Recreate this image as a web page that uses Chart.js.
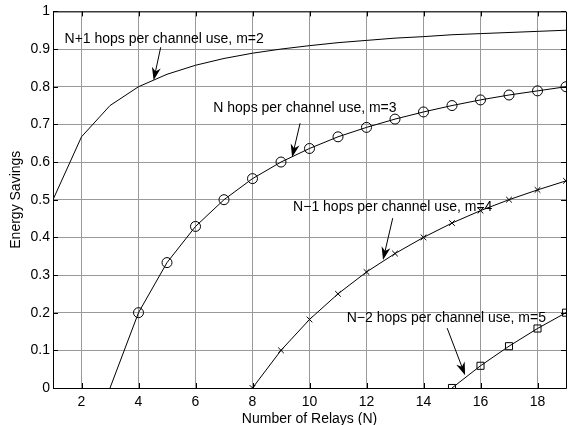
<!DOCTYPE html>
<html>
<head>
<meta charset="utf-8">
<script src="https://cdn.jsdelivr.net/npm/chart.js@4/dist/chart.umd.min.js"></script>
<style>
  html, body { margin: 0; padding: 0; background: #fff; }
  #wrap { width: 572px; height: 425px; }
</style>
</head>
<body>
<div id="wrap"><canvas id="savings"></canvas></div>
<script>
// relays N and energy savings
const relaysM2 = [1, 2, 3, 4, 5, 6, 7, 8, 9, 10, 11, 12, 13, 14, 15, 16, 17, 18, 19];
const savingsM2 = [0.5, 0.667, 0.75, 0.8, 0.833, 0.857, 0.875, 0.889, 0.9, 0.909, 0.917, 0.923, 0.929, 0.933, 0.938, 0.941, 0.944, 0.947, 0.95];

const relaysM3 = [3, 4, 5, 6, 7, 8, 9, 10, 11, 12, 13, 14, 15, 16, 17, 18, 19];
const savingsM3 = [0, 0.2, 0.333, 0.429, 0.5, 0.556, 0.6, 0.636, 0.667, 0.692, 0.714, 0.733, 0.75, 0.765, 0.778, 0.789, 0.8];

const relaysM4 = [8, 9, 10, 11, 12, 13, 14, 15, 16, 17, 18, 19];
const savingsM4 = [0, 0.1, 0.182, 0.25, 0.308, 0.357, 0.4, 0.438, 0.471, 0.5, 0.526, 0.55];

const relaysM5 = [15, 16, 17, 18, 19];
const savingsM5 = [0, 0.059, 0.111, 0.158, 0.2];

const xTicks = [2, 4, 6, 8, 10, 12, 14, 16, 18];

// labels with arrows, in data units: text centre, arrow start, arrow tip
const notes = [
  { text: "N+1 hops per channel use, m=2", tx: 4.9, ty: 0.926, x0: 4.78, y0: 0.905, x1: 4.53, y1: 0.817 },
  { text: "N hops per channel use, m=3", tx: 9.84, ty: 0.743, x0: 9.67, y0: 0.703, x1: 9.39, y1: 0.613 },
  { text: "N\u22121 hops per channel use, m=4", tx: 12.92, ty: 0.48, x0: 12.92, y0: 0.451, x1: 12.58, y1: 0.34 },
  { text: "N\u22122 hops per channel use, m=5", tx: 14.8, ty: 0.186, x0: 14.83, y0: 0.159, x1: 15.46, y1: 0.034 }
];

const FONT = "'Liberation Sans', Arial, Helvetica, sans-serif";

function pts(xs, ys) {
  return xs.map((x, i) => ({ x: x, y: ys[i] }));
}

// frame, inward ticks and the annotations
const frameAndNotes = {
  id: "frameAndNotes",
  afterDatasetsDraw(chart) {
    const ctx = chart.ctx;
    const a = chart.chartArea;
    const xs = chart.scales.x;
    const ys = chart.scales.y;
    ctx.save();
    ctx.strokeStyle = "#000";
    ctx.lineWidth = 1;
    ctx.beginPath();
    ctx.rect(a.left + 0.5, a.top + 0.5, a.right - a.left, a.bottom - a.top);
    ctx.stroke();
    ctx.beginPath();
    xTicks.forEach(v => {
      const px = Math.round(xs.getPixelForValue(v)) + 0.5;
      ctx.moveTo(px, a.bottom); ctx.lineTo(px, a.bottom - 5);
      ctx.moveTo(px, a.top); ctx.lineTo(px, a.top + 5);
    });
    for (let k = 0; k <= 10; k++) {
      const py = Math.round(ys.getPixelForValue(k / 10)) + 0.5;
      ctx.moveTo(a.left, py); ctx.lineTo(a.left + 5, py);
      ctx.moveTo(a.right, py); ctx.lineTo(a.right - 5, py);
    }
    ctx.stroke();

    ctx.fillStyle = "#000";
    ctx.font = "14px " + FONT;
    ctx.textAlign = "center";
    ctx.textBaseline = "middle";
    notes.forEach(n => {
      ctx.fillText(n.text, xs.getPixelForValue(n.tx), ys.getPixelForValue(n.ty));
      const sx = xs.getPixelForValue(n.x0), sy = ys.getPixelForValue(n.y0);
      const ex = xs.getPixelForValue(n.x1), ey = ys.getPixelForValue(n.y1);
      const ang = Math.atan2(ey - sy, ex - sx);
      const len = 13, half = 4.5;
      ctx.beginPath();
      ctx.moveTo(sx, sy);
      ctx.lineTo(ex - Math.cos(ang) * len * 0.6, ey - Math.sin(ang) * len * 0.6);
      ctx.stroke();
      const bx = ex - Math.cos(ang) * len, by = ey - Math.sin(ang) * len;
      ctx.beginPath();
      ctx.moveTo(ex, ey);
      ctx.lineTo(bx - Math.sin(ang) * half, by + Math.cos(ang) * half);
      ctx.lineTo(ex - Math.cos(ang) * len * 0.7, ey - Math.sin(ang) * len * 0.7);
      ctx.lineTo(bx + Math.sin(ang) * half, by - Math.cos(ang) * half);
      ctx.closePath();
      ctx.fill();
    });
    ctx.restore();
  }
};

const lineStyle = {
  borderColor: "#000",
  backgroundColor: "rgba(0,0,0,0)",
  borderWidth: 1,
  pointBorderColor: "#000",
  pointBackgroundColor: "rgba(0,0,0,0)",
  pointBorderWidth: 1,
  tension: 0
};

new Chart(document.getElementById("savings"), {
  type: "line",
  data: {
    datasets: [
      Object.assign({}, lineStyle, {
        label: "m=2",
        data: pts(relaysM2, savingsM2),
        pointRadius: 0
      }),
      Object.assign({}, lineStyle, {
        label: "m=3",
        data: pts(relaysM3, savingsM3),
        pointStyle: "circle",
        pointRadius: relaysM3.map((x, i) => (i === 0 ? 0 : 5))
      }),
      Object.assign({}, lineStyle, {
        label: "m=4",
        data: pts(relaysM4, savingsM4),
        pointStyle: "crossRot",
        pointRadius: 4
      }),
      Object.assign({}, lineStyle, {
        label: "m=5",
        data: pts(relaysM5, savingsM5),
        pointStyle: "rect",
        pointRadius: 5
      })
    ]
  },
  options: {
    responsive: true,
    maintainAspectRatio: false,
    animation: false,
    events: [],
    layout: { padding: { left: 0, right: 0, top: 11, bottom: 0 } },
    plugins: {
      legend: { display: false },
      tooltip: { enabled: false }
    },
    scales: {
      x: {
        type: "linear",
        min: 1,
        max: 19,
        afterBuildTicks: s => { s.ticks = xTicks.map(v => ({ value: v })); },
        afterFit: s => { s.height = 37; },
        border: { display: false },
        grid: { color: "#999", borderDash: [1, 5], drawTicks: false, lineWidth: 1 },
        ticks: { color: "#000", font: { family: FONT, size: 14 }, padding: 6, maxRotation: 0 },
        title: { display: true, text: "Number of Relays (N)", color: "#000", font: { family: FONT, size: 14 }, padding: { top: 0, bottom: -3 } }
      },
      y: {
        min: 0,
        max: 1,
        afterFit: s => { s.width = 53; },
        border: { display: false },
        grid: { color: "#999", borderDash: [1, 5], drawTicks: false, lineWidth: 1 },
        ticks: { stepSize: 0.1, color: "#000", font: { family: FONT, size: 14 }, padding: 3,
          callback: v => (Math.round(v * 10) / 10).toString() },
        title: { display: true, text: "Energy Savings", color: "#000", font: { family: FONT, size: 14 }, padding: { top: 8, bottom: 0 } }
      }
    }
  },
  plugins: [frameAndNotes]
});
</script>
</body>
</html>
